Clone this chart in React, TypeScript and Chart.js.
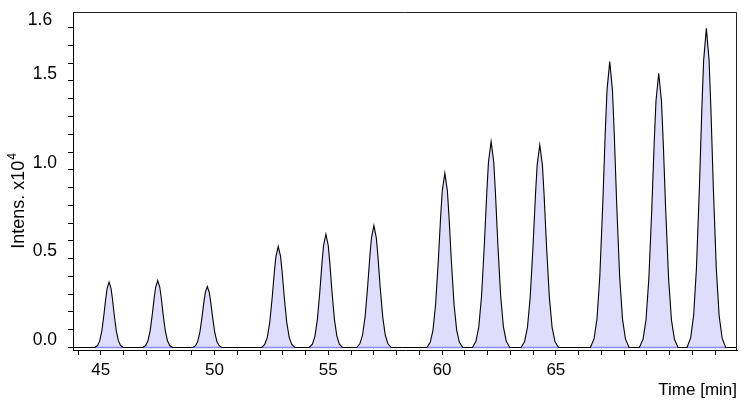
import { useEffect, useRef } from "react";
import { Chart, registerables } from "chart.js";

Chart.register(...registerables);

// Chromatogram trace, grouped per peak: [time (min), intensity (x10^4)]
const peak01 = [[44.74, 0], [44.857, 0.011], [44.953, 0.037], [45.045, 0.092], [45.139, 0.184], [45.219, 0.276], [45.277, 0.331], [45.365, 0.368], [45.453, 0.331], [45.511, 0.276], [45.591, 0.184], [45.685, 0.092], [45.777, 0.037], [45.873, 0.011], [45.99, 0]];
const peak02 = [[46.852, 0], [46.973, 0.011], [47.074, 0.038], [47.17, 0.094], [47.268, 0.189], [47.351, 0.283], [47.411, 0.339], [47.503, 0.377], [47.595, 0.339], [47.655, 0.283], [47.738, 0.189], [47.836, 0.094], [47.932, 0.038], [48.033, 0.011], [48.154, 0]];
const peak03 = [[49.044, 0], [49.163, 0.01], [49.261, 0.034], [49.356, 0.086], [49.451, 0.172], [49.533, 0.257], [49.592, 0.309], [49.682, 0.343], [49.772, 0.309], [49.831, 0.257], [49.913, 0.172], [50.008, 0.086], [50.103, 0.034], [50.201, 0.01], [50.32, 0]];
const peak04 = [[52.071, 0], [52.207, 0.017], [52.319, 0.057], [52.427, 0.142], [52.536, 0.284], [52.63, 0.426], [52.697, 0.511], [52.8, 0.568], [52.903, 0.511], [52.97, 0.426], [53.064, 0.284], [53.173, 0.142], [53.281, 0.057], [53.393, 0.017], [53.529, 0]];
const peak05 = [[54.165, 0], [54.301, 0.019], [54.413, 0.064], [54.521, 0.16], [54.63, 0.319], [54.724, 0.479], [54.791, 0.574], [54.894, 0.638], [54.997, 0.574], [55.064, 0.479], [55.158, 0.319], [55.267, 0.16], [55.375, 0.064], [55.487, 0.019], [55.623, 0]];
const peak06 = [[56.245, 0], [56.386, 0.021], [56.503, 0.069], [56.615, 0.172], [56.729, 0.343], [56.826, 0.515], [56.896, 0.617], [57.003, 0.686], [57.11, 0.617], [57.18, 0.515], [57.277, 0.343], [57.391, 0.172], [57.503, 0.069], [57.62, 0.021], [57.761, 0]];
const peak07 = [[59.331, 0], [59.478, 0.029], [59.6, 0.098], [59.716, 0.245], [59.835, 0.491], [59.936, 0.736], [60.009, 0.883], [60.12, 0.981], [60.231, 0.883], [60.304, 0.736], [60.405, 0.491], [60.524, 0.245], [60.64, 0.098], [60.762, 0.029], [60.909, 0]];
const peak08 = [[61.334, 0], [61.487, 0.035], [61.613, 0.116], [61.734, 0.29], [61.857, 0.58], [61.963, 0.869], [62.038, 1.043], [62.154, 1.159], [62.27, 1.043], [62.345, 0.869], [62.451, 0.58], [62.574, 0.29], [62.695, 0.116], [62.821, 0.035], [62.974, 0]];
const peak09 = [[63.473, 0], [63.626, 0.034], [63.752, 0.114], [63.873, 0.285], [63.996, 0.57], [64.102, 0.855], [64.177, 1.026], [64.293, 1.14], [64.409, 1.026], [64.484, 0.855], [64.59, 0.57], [64.713, 0.285], [64.834, 0.114], [64.96, 0.034], [65.113, 0]];
const peak10 = [[66.517, 0], [66.676, 0.048], [66.807, 0.161], [66.932, 0.402], [67.06, 0.805], [67.169, 1.207], [67.247, 1.448], [67.367, 1.609], [67.487, 1.448], [67.565, 1.207], [67.674, 0.805], [67.802, 0.402], [67.927, 0.161], [68.058, 0.048], [68.217, 0]];
const peak11 = [[68.67, 0], [68.829, 0.046], [68.96, 0.154], [69.085, 0.386], [69.213, 0.772], [69.322, 1.157], [69.4, 1.389], [69.52, 1.543], [69.64, 1.389], [69.718, 1.157], [69.827, 0.772], [69.955, 0.386], [70.08, 0.154], [70.211, 0.046], [70.37, 0]];
const peak12 = [[70.764, 0], [70.923, 0.054], [71.054, 0.18], [71.179, 0.449], [71.307, 0.898], [71.416, 1.347], [71.494, 1.616], [71.614, 1.796], [71.734, 1.616], [71.812, 1.347], [71.921, 0.898], [72.049, 0.449], [72.174, 0.18], [72.305, 0.054], [72.464, 0]];

const peaks = [peak01, peak02, peak03, peak04, peak05, peak06, peak07, peak08, peak09, peak10, peak11, peak12];

const timeRange = [43.78, 72.96];
const intensityRange = [-0.0141, 1.888];

const xTickValues = [44, 45, 46, 47, 48, 49, 50, 51, 52, 53, 54, 55, 56, 57, 58, 59, 60, 61, 62, 63, 64, 65, 66, 67, 68, 69, 70, 71, 72];
const xTickLabels = ["", "45", "", "", "", "", "50", "", "", "", "", "55", "", "", "", "", "60", "", "", "", "", "65", "", "", "", "", "", "", ""];
const yTickValues = [0, 0.1, 0.2, 0.3, 0.4, 0.5, 0.6, 0.7, 0.8, 0.9, 1.0, 1.1, 1.2, 1.3, 1.4, 1.5, 1.6, 1.7, 1.8];
const yTickLabels = ["0.0", "", "", "", "", "0.5", "", "", "", "", "1.0", "", "", "", "", "1.5", "", "", "1.6 "];

const xTitle = "Time [min]";
const yTitleMain = "Intens. x10";
const yTitleSup = "4";

const FONT = '"Liberation Sans", Arial, Helvetica, sans-serif';

const framePlugin = {
  id: "frame",
  afterDraw(chart: any) {
    const { ctx, chartArea: a } = chart;
    ctx.save();
    ctx.strokeStyle = "#222";
    ctx.lineWidth = 1;
    ctx.beginPath();
    const t = Math.round(a.top) + 0.5;
    const r = Math.round(a.right) - 0.5;
    ctx.moveTo(Math.round(a.left), t);
    ctx.lineTo(r, t);
    ctx.lineTo(r, Math.round(a.bottom));
    ctx.stroke();
    ctx.restore();
  },
};

const yTitlePlugin = {
  id: "yTitle",
  afterDraw(chart: any) {
    const ctx = chart.ctx;
    ctx.save();
    ctx.translate(19, 201);
    ctx.rotate(-Math.PI / 2);
    ctx.fillStyle = "#000";
    ctx.textAlign = "left";
    ctx.textBaseline = "middle";
    ctx.font = `18px ${FONT}`;
    const w1 = ctx.measureText(yTitleMain).width;
    ctx.font = `12px ${FONT}`;
    const w2 = ctx.measureText(yTitleSup).width;
    const start = -(w1 + w2 + 1) / 2;
    ctx.font = `18px ${FONT}`;
    ctx.fillText(yTitleMain, start, 0);
    ctx.font = `12px ${FONT}`;
    ctx.fillText(yTitleSup, start + w1 + 1, -6);
    ctx.restore();
  },
};

export default function App() {
  const ref = useRef<HTMLCanvasElement | null>(null);

  useEffect(() => {
    if (!ref.current) return;
    Chart.defaults.font.family = FONT;
    const traceData: any[] = [{ x: timeRange[0], y: 0 }];
    peaks.forEach((p) => p.forEach(([x, y]) => traceData.push({ x, y })));
    traceData.push({ x: timeRange[1], y: 0 });

    const baseData: any[] = [];
    peaks.forEach((p) => {
      baseData.push({ x: p[0][0], y: 0 });
      baseData.push({ x: p[p.length - 1][0], y: 0 });
      baseData.push({ x: p[p.length - 1][0] + 0.01, y: null });
    });

    const chart = new Chart(ref.current, {
      type: "line",
      data: {
        datasets: [
          {
            label: "trace",
            data: traceData,
            borderColor: "#000",
            borderWidth: 1.1,
            backgroundColor: "#dedefc",
            fill: "origin",
            pointRadius: 0,
            tension: 0,
            order: 1,
          },
          {
            label: "baseline",
            data: baseData,
            borderColor: "#8a8aff",
            borderWidth: 1.4,
            pointRadius: 0,
            fill: false,
            spanGaps: false,
            order: 2,
          },
        ],
      },
      options: {
        responsive: false,
        animation: false,
        events: [],
        layout: { padding: { top: 12, right: 4, left: 0, bottom: 0 } },
        plugins: {
          legend: { display: false },
          tooltip: { enabled: false },
          filler: { drawTime: "beforeDatasetsDraw" },
        } as any,
        scales: {
          x: {
            type: "linear",
            min: timeRange[0],
            max: timeRange[1],
            afterBuildTicks: (s: any) => {
              s.ticks = xTickValues.map((v) => ({ value: v }));
            },
            afterFit: (s: any) => {
              s.height = 54;
              s.paddingLeft = 0;
              s.paddingRight = 0;
            },
            grid: { display: true, drawOnChartArea: false, drawTicks: true, tickLength: 5, color: "#000" },
            border: { display: true, color: "#000", width: 1 },
            ticks: {
              autoSkip: false,
              maxRotation: 0,
              padding: 5,
              color: "#000",
              font: { size: 17, family: FONT },
              callback: (_v: any, i: number) => xTickLabels[i],
            },
            title: {
              display: true,
              text: xTitle,
              align: "end",
              color: "#000",
              font: { size: 17, family: FONT },
              padding: { top: 0, bottom: 3 },
            },
          },
          y: {
            type: "linear",
            min: intensityRange[0],
            max: intensityRange[1],
            afterBuildTicks: (s: any) => {
              s.ticks = yTickValues.map((v) => ({ value: v }));
            },
            afterFit: (s: any) => {
              s.width = 73;
              s.paddingTop = 0;
              s.paddingBottom = 0;
            },
            grid: { display: true, drawOnChartArea: false, drawTicks: true, tickLength: 5, color: "#000" },
            border: { display: true, color: "#000", width: 1 },
            ticks: {
              autoSkip: false,
              padding: 11,
              labelOffset: -7,
              color: "#000",
              font: { size: 17.5, family: FONT },
              callback: (_v: any, i: number) => yTickLabels[i],
            },
          },
        },
      },
      plugins: [framePlugin, yTitlePlugin],
    });
    return () => chart.destroy();
  }, []);

  return (
    <div style={{ position: "fixed", left: 0, top: 0, width: 741, height: 404, background: "#fff" }}>
      <canvas ref={ref} width={741} height={404} style={{ width: 741, height: 404, display: "block" }} />
    </div>
  );
}
